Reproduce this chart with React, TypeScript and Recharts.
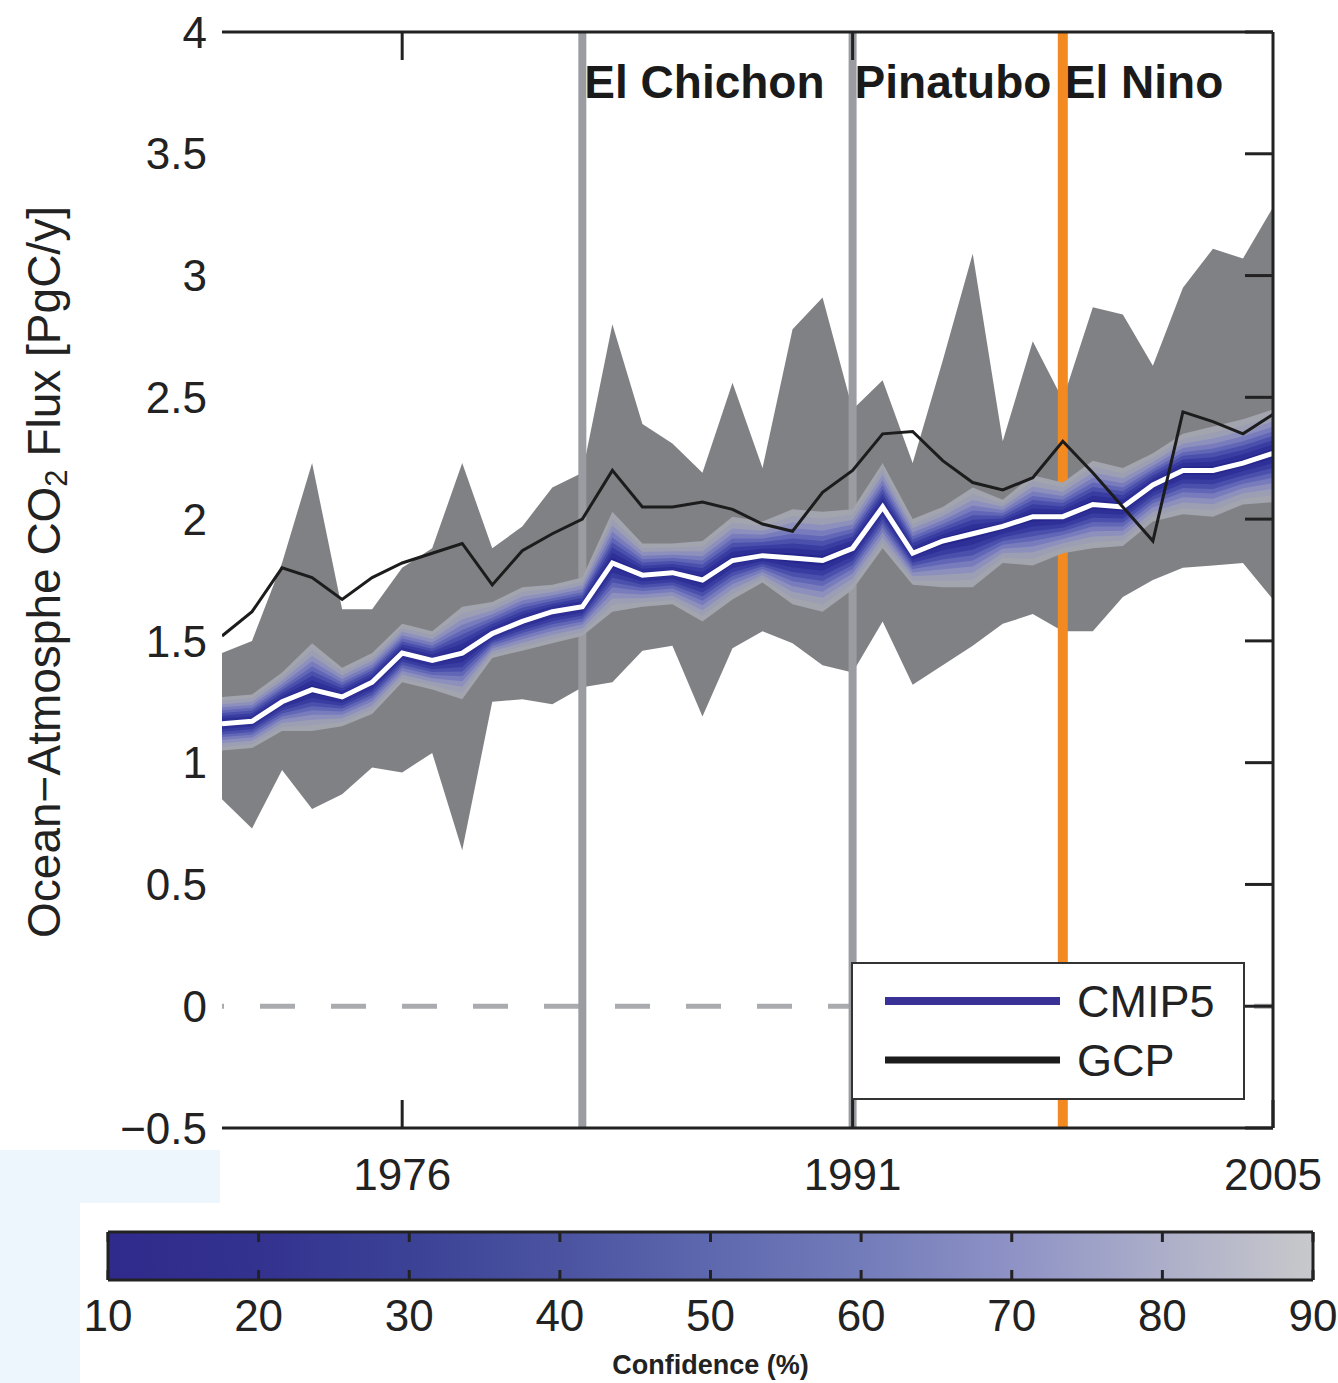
import React from 'react';
import { ComposedChart, Area, Line, XAxis, YAxis, ReferenceLine } from 'recharts';

// yearly values
const years = [
  1970, 1971, 1972, 1973, 1974, 1975, 1976, 1977, 1978, 1979, 1980, 1981,
  1982, 1983, 1984, 1985, 1986, 1987, 1988, 1989, 1990, 1991, 1992, 1993,
  1994, 1995, 1996, 1997, 1998, 1999, 2000, 2001, 2002, 2003, 2004, 2005,
];
const gcp = [
  1.52, 1.62, 1.8, 1.76, 1.67, 1.76, 1.82, 1.86, 1.9, 1.73, 1.87, 1.94,
  2.0, 2.2, 2.05, 2.05, 2.07, 2.04, 1.98, 1.95, 2.11, 2.2, 2.35, 2.36,
  2.24, 2.15, 2.12, 2.17, 2.32, 2.19, 2.05, 1.91, 2.44, 2.4, 2.35, 2.43,
];
const cmipMean = [
  1.16, 1.17, 1.25, 1.3, 1.27, 1.33, 1.45, 1.42, 1.45, 1.53, 1.58, 1.62,
  1.64, 1.82, 1.77, 1.78, 1.75, 1.83, 1.85, 1.84, 1.83, 1.88, 2.05, 1.86,
  1.91, 1.94, 1.97, 2.01, 2.01, 2.06, 2.05, 2.14, 2.2, 2.2, 2.23, 2.27,
];
const bandHigh = [
  1.27, 1.28, 1.37, 1.49, 1.39, 1.45, 1.57, 1.54, 1.64, 1.66, 1.72, 1.73,
  1.76, 2.03, 1.9, 1.9, 1.91, 2.01, 1.99, 2.04, 2.03, 2.04, 2.23, 2.0,
  2.05, 2.13, 2.08, 2.18, 2.15, 2.24, 2.21, 2.27, 2.35, 2.38, 2.41, 2.45,
];
const bandLow = [
  1.05, 1.06, 1.13, 1.13, 1.15, 1.2, 1.33, 1.3, 1.26, 1.43, 1.46, 1.49,
  1.52, 1.62, 1.64, 1.65, 1.58, 1.67, 1.74, 1.65, 1.62, 1.71, 1.88, 1.73,
  1.72, 1.72, 1.82, 1.81, 1.86, 1.88, 1.89, 1.99, 2.02, 2.01, 2.06, 2.07,
];
const envHigh = [
  1.45, 1.5, 1.82, 2.23, 1.63, 1.63, 1.8, 1.88, 2.23, 1.88, 1.97, 2.13,
  2.19, 2.8, 2.39, 2.31, 2.19, 2.56, 2.21, 2.78, 2.91, 2.45, 2.57, 2.23,
  2.65, 3.09, 2.32, 2.73, 2.49, 2.87, 2.84, 2.63, 2.95, 3.11, 3.07, 3.28,
];
const envLow = [
  0.85, 0.73, 0.97, 0.81, 0.87, 0.98, 0.96, 1.04, 0.64, 1.25, 1.26, 1.24,
  1.31, 1.33, 1.46, 1.48, 1.19, 1.47, 1.54, 1.49, 1.4, 1.37, 1.58, 1.32,
  1.4, 1.48, 1.57, 1.61, 1.54, 1.54, 1.68, 1.75, 1.8, 1.81, 1.82, 1.67,
];

const events = [
  { year: 1982, name: 'El Chichon', color: '#9a9ca2', width: 8 },
  { year: 1991, name: 'Pinatubo', color: '#9a9ca2', width: 8 },
  { year: 1998, name: 'El Nino', color: '#f28a21', width: 10 },
];

const xTicks = [1976, 1991, 2005];
const yTicks = [-0.5, 0, 0.5, 1, 1.5, 2, 2.5, 3, 3.5, 4];
const confTicks = [10, 20, 30, 40, 50, 60, 70, 80, 90];

// nested shells of the confidence band, outer (grey) to inner (blue)
const bandLevels = [1, 0.86, 0.73, 0.61, 0.5, 0.4, 0.3, 0.2, 0.1];
const bandColors = ['#a2a4ae', '#9c9eb4', '#8d90bc', '#787cbd', '#6166b7', '#4b50ac', '#393da1', '#2e3097', '#26278e'];

const font = '"Liberation Sans", Arial, Helvetica, sans-serif';
const ink = '#222';
const W = 1338;
const H = 1210;
const plotMargin = { top: 31, right: 64, bottom: 0, left: 0 };
const noLabel = () => '';

const rows = years.map((year, i) => {
  const row: any = { year, env: [envLow[i], envHigh[i]], mean: cmipMean[i], gcp: gcp[i] };
  bandLevels.forEach((f, k) => {
    row['b' + k] = [
      cmipMean[i] - f * (cmipMean[i] - bandLow[i]),
      cmipMean[i] + f * (bandHigh[i] - cmipMean[i]),
    ];
  });
  return row;
});

// the colour bar is one full-height strip across 10..90
const confRows = confTicks.map((c) => ({ c, full: 1 }));

const fmtY = (v: number) => (v < 0 ? '\u2212' + Math.abs(v) : String(v));

const YLabel = (props: any) => {
  const vb = props.viewBox || { x: 0, y: 32, height: 1096 };
  const cx = vb.x + 44;
  const cy = vb.y + vb.height / 2 - 8;
  return (
    <text x={cx} y={cy} transform={`rotate(-90 ${cx} ${cy})`} textAnchor="middle" dominantBaseline="central" fontSize={46} fill={ink} fontFamily={font}>
      Ocean{'\u2212'}Atmosphe CO<tspan dy={12} fontSize={31}>2</tspan>
      <tspan dy={-12}> Flux [PgC/y]</tspan>
    </text>
  );
};

// shared axes so both layers line up exactly
const axes = (show: boolean) => [
  <XAxis
    key="xb"
    dataKey="year"
    type="number"
    domain={[1970, 2005]}
    ticks={xTicks}
    allowDataOverflow
    height={82}
    hide={!show}
    tickSize={-28}
    tickMargin={59}
    stroke={ink}
    strokeWidth={3}
    tick={{ fontSize: 44, fill: ink, fontFamily: font }}
  />,
  <XAxis
    key="xt"
    xAxisId="top"
    orientation="top"
    dataKey="year"
    type="number"
    domain={[1970, 2005]}
    ticks={[1976, 1991]}
    allowDataOverflow
    height={1}
    hide={!show}
    tickSize={-28}
    tickFormatter={noLabel}
    stroke={ink}
    strokeWidth={3}
  />,
  <YAxis
    key="yl"
    type="number"
    domain={[-0.5, 4]}
    ticks={yTicks}
    allowDataOverflow
    width={222}
    hide={!show}
    axisLine={false}
    tickLine={false}
    tickSize={0}
    tickMargin={15}
    tickFormatter={fmtY}
    tick={{ fontSize: 44, fill: ink, fontFamily: font }}
    label={YLabel}
  />,
  <YAxis
    key="yr"
    yAxisId="right"
    orientation="right"
    type="number"
    domain={[-0.5, 4]}
    ticks={yTicks}
    allowDataOverflow
    width={1}
    hide={!show}
    tickSize={-28}
    tickFormatter={noLabel}
    stroke={ink}
    strokeWidth={3}
  />,
];

const App = () => {
  // hidden axes take no room, so the back layer gets that room as margin
  const backMargin = { top: 32, right: 65, bottom: 82, left: 222 };
  return (
    <div style={{ position: 'absolute', left: 0, top: 0, width: W, height: 1383, background: '#fff', fontFamily: font }}>
      <div style={{ position: 'absolute', left: 0, top: 1150, width: 220, height: 53, background: '#edf5fd' }} />
      <div style={{ position: 'absolute', left: 0, top: 1203, width: 80, height: 180, background: '#edf5fd' }} />

      {/* back layer: model spread, zero line and event markers */}
      <div style={{ position: 'absolute', left: 0, top: 0 }}>
        <ComposedChart width={W} height={H} data={rows} margin={backMargin}>
          {axes(false)}
          <ReferenceLine y={0} stroke="#a9abaf" strokeWidth={5} strokeDasharray="35 36" strokeDashoffset={33} />
          <Area dataKey="env" type="linear" stroke="none" fill="#808185" fillOpacity={1} isAnimationActive={false} dot={false} activeDot={false} />
          {events.map((ev) => (
            <ReferenceLine
              key={ev.name}
              x={ev.year}
              stroke={ev.color}
              strokeWidth={ev.width}
              label={(p: any) => (
                <text x={p.viewBox.x + 2} y={p.viewBox.y + 66} fontSize={46} fontWeight="bold" fill="#1a1a1a" fontFamily={font}>
                  {ev.name}
                </text>
              )}
            />
          ))}
        </ComposedChart>
      </div>

      {/* front layer: confidence band, CMIP5 mean, GCP and the axes */}
      <div style={{ position: 'absolute', left: 0, top: 0 }}>
        <ComposedChart width={W} height={H} data={rows} margin={plotMargin}>
          {axes(true)}
          {bandLevels.map((f, k) => (
            <Area
              key={'b' + k}
              dataKey={'b' + k}
              type="linear"
              stroke="none"
              fill={bandColors[k]}
              fillOpacity={1}
              isAnimationActive={false}
              dot={false}
              activeDot={false}
            />
          ))}
          <Line dataKey="mean" type="linear" stroke="#ffffff" strokeWidth={5} dot={false} activeDot={false} isAnimationActive={false} />
          <Line dataKey="gcp" type="linear" stroke="#1c1c1c" strokeWidth={3} dot={false} activeDot={false} isAnimationActive={false} />
        </ComposedChart>
      </div>

      {/* legend */}
      <div
        style={{
          position: 'absolute',
          left: 851,
          top: 962,
          width: 394,
          height: 138,
          boxSizing: 'border-box',
          border: '2px solid #333',
          background: '#fff',
        }}
      >
        <svg width={390} height={134} style={{ display: 'block' }}>
          <line x1={32} x2={207} y1={37} y2={37} stroke="#3a3196" strokeWidth={8} />
          <text x={224} y={37} dominantBaseline="central" fontSize={45} fill={ink} fontFamily={font}>CMIP5</text>
          <line x1={32} x2={207} y1={96} y2={96} stroke="#1c1c1c" strokeWidth={7} />
          <text x={224} y={96} dominantBaseline="central" fontSize={45} fill={ink} fontFamily={font}>GCP</text>
        </svg>
      </div>

      {/* colour bar */}
      <div style={{ position: 'absolute', left: 0, top: 1225 }}>
        <ComposedChart width={W} height={158} data={confRows} margin={{ top: 6, right: 24, bottom: 0, left: 0 }}>
          <defs>
            <linearGradient id="cbarGrad" x1="0" y1="0" x2="1" y2="0">
              <stop offset="0" stopColor="#2f2a8b" />
              <stop offset="0.125" stopColor="#33328f" />
              <stop offset="0.25" stopColor="#3b4296" />
              <stop offset="0.375" stopColor="#4b53a1" />
              <stop offset="0.5" stopColor="#5d68ae" />
              <stop offset="0.625" stopColor="#737cba" />
              <stop offset="0.75" stopColor="#8e92c5" />
              <stop offset="0.875" stopColor="#acaec9" />
              <stop offset="1" stopColor="#c8c9cb" />
            </linearGradient>
          </defs>
          <XAxis
            dataKey="c"
            type="number"
            domain={[10, 90]}
            ticks={confTicks}
            height={103}
            tickSize={-10}
            tickMargin={30}
            stroke={ink}
            strokeWidth={3}
            tick={{ fontSize: 44, fill: ink, fontFamily: font }}
            label={(p: any) => (
              <text x={p.viewBox.x + p.viewBox.width / 2} y={p.viewBox.y + 94} textAnchor="middle" fontSize={27} fontWeight="bold" fill={ink} fontFamily={font}>
                Confidence (%)
              </text>
            )}
          />
          <XAxis
            xAxisId="top"
            orientation="top"
            dataKey="c"
            type="number"
            domain={[10, 90]}
            ticks={confTicks}
            height={1}
            tickSize={-10}
            tickFormatter={noLabel}
            stroke={ink}
            strokeWidth={3}
          />
          <YAxis type="number" domain={[0, 1]} width={108} tickLine={false} tick={false} stroke={ink} strokeWidth={3} />
          <YAxis yAxisId="right" orientation="right" type="number" domain={[0, 1]} width={1} tickLine={false} tick={false} stroke={ink} strokeWidth={3} />
          <Area dataKey="full" type="linear" stroke="none" fill="url(#cbarGrad)" fillOpacity={1} isAnimationActive={false} dot={false} activeDot={false} />
        </ComposedChart>
      </div>
    </div>
  );
};

export default App;
